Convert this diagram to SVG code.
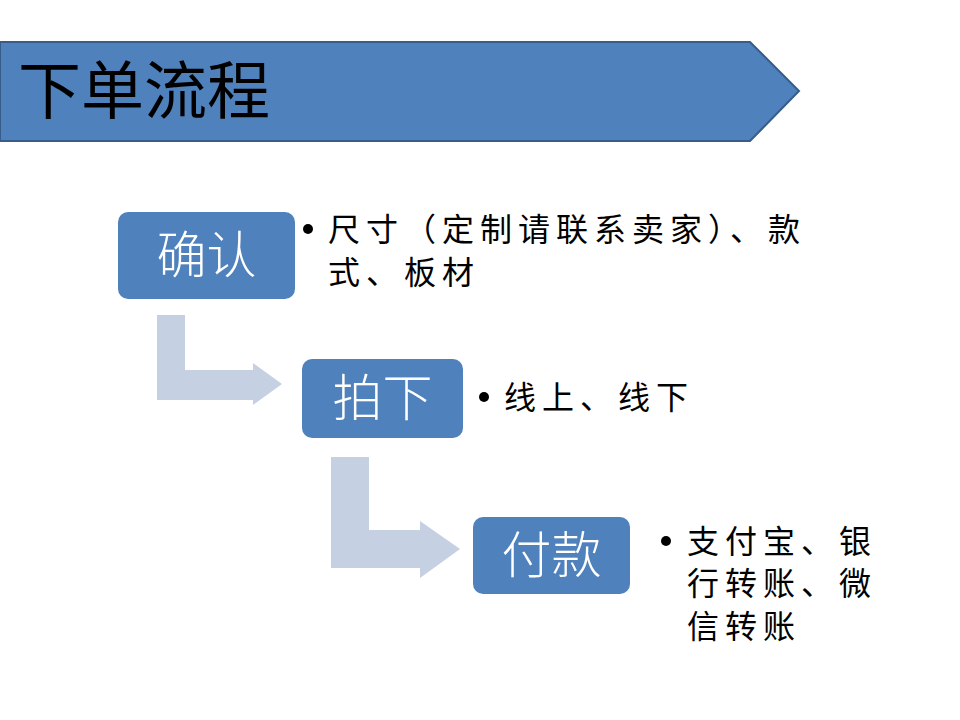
<svg xmlns="http://www.w3.org/2000/svg" width="960" height="720" viewBox="0 0 960 720">
<style>
.box{fill:#4F81BD;}
.boxt{font-family:"Noto Sans CJK SC",sans-serif;font-size:50px;fill:#FFFFFF;text-anchor:middle;font-weight:300;}
.body{font-family:"Noto Sans CJK SC",sans-serif;font-size:32px;fill:#000000;letter-spacing:6px;}
.arr{fill:#C6D0E3;}
</style>
<rect width="960" height="720" fill="#FFFFFF"/>
<g id="title">
<polygon points="0,42 750,42 799,91 750,141 0,141" fill="#4F81BD" stroke="#385D8A" stroke-width="2"/>
<text x="18" y="113" font-family="Noto Sans CJK SC,sans-serif" font-size="63" fill="#000000">下单流程</text>
</g>
<g id="connectors">
<polygon class="arr" points="157,315 185,315 185,370 253,370 253,363 282,384 253,405 253,400 157,400"/>
<polygon class="arr" points="331,457 369,457 369,530 420,530 420,521 460,549 420,578 420,568 331,568"/>
</g>
<g id="node-confirm">
<rect class="box" x="118" y="212" width="177" height="87" rx="10"/>
<text class="boxt" x="206.5" y="273">确认</text>
</g>
<g id="note-confirm">
<circle cx="308" cy="229" r="5" fill="#000"/>
<text class="body" x="328" y="241">尺寸（定制请联系卖家）、款</text>
<text class="body" x="328" y="284">式、板材</text>
</g>
<g id="node-order">
<rect class="box" x="302" y="359" width="161" height="79" rx="10"/>
<text class="boxt" x="382.5" y="416">拍下</text>
</g>
<g id="note-order">
<circle cx="484" cy="397" r="5" fill="#000"/>
<text class="body" x="504" y="409">线上、线下</text>
</g>
<g id="node-pay">
<rect class="box" x="473" y="517" width="157" height="77" rx="10"/>
<text class="boxt" x="551.5" y="573">付款</text>
</g>
<g id="note-pay">
<circle cx="666" cy="541" r="5" fill="#000"/>
<text class="body" x="687" y="553">支付宝、银</text>
<text class="body" x="687" y="595">行转账、微</text>
<text class="body" x="687" y="638">信转账</text>
</g>
</svg>
